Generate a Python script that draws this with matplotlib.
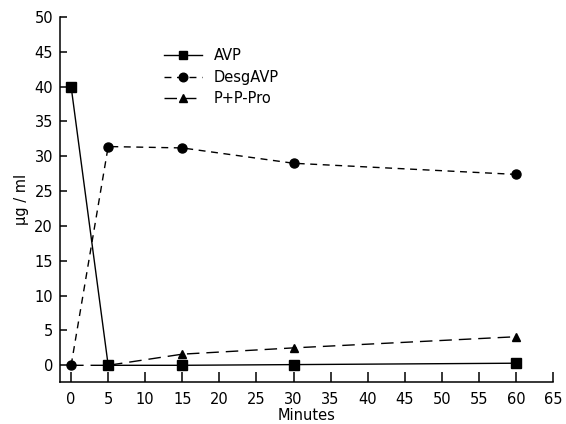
import numpy as np
import matplotlib
matplotlib.use('Agg')
import matplotlib.pyplot as plt

# ---------------- Data ---------------- #

minutes = [0, 5, 15, 30, 60]
avp = [40, 0, 0, 0.1, 0.3]
desgAvp = [0, 31.4, 31.2, 29.0, 27.4]
ppPro = [0, 0, 1.6, 2.5, 4.1]

xTicks = list(range(0, 70, 5))
yTicks = list(range(0, 55, 5))

# ------------- Plotting --------------- #

plt.rcParams['font.family'] = ['DejaVu Sans']
fig = plt.figure(figsize=(5.66, 4.24), dpi=100)
ax = fig.add_axes([0.106, 0.099, 0.871, 0.861])

lw = 1.0
# first two triangles sit under the circle/square, so skip drawing them
ax.plot(minutes, ppPro, color='black', lw=lw, ls=(0, (9, 5)),
        marker='^', ms=6, markevery=[2, 3, 4], label='P+P-Pro', zorder=2)
ax.plot(minutes, avp, color='black', lw=lw, marker='s', ms=6.5,
        label='AVP', zorder=3)
ax.plot(minutes, desgAvp, color='black', lw=lw, ls=(0, (5, 4)),
        marker='o', ms=6.5, label='DesgAVP', zorder=4)

ax.set_xlim(-1.5, 65)
ax.set_ylim(-2.4, 50)
ax.set_xticks(xTicks)
ax.set_yticks(yTicks)
ax.spines['top'].set_visible(False)
ax.spines['right'].set_visible(False)
for s in ('left', 'bottom'):
    ax.spines[s].set_linewidth(1.1)
ax.tick_params(axis='x', direction='in', length=7.5, width=1.1,
               pad=7, labelsize=10.5)
ax.tick_params(axis='y', direction='in', length=5, width=1.1,
               pad=5, labelsize=10.5)

ax.set_xlabel('Minutes', fontsize=10.5, labelpad=1)
ax.set_ylabel('μg / ml', fontsize=10.5, labelpad=4)

# legend in the original line order
h, l = ax.get_legend_handles_labels()
order = [1, 2, 0]
ax.legend([h[i] for i in order], [l[i] for i in order],
          loc='upper left', bbox_to_anchor=(0.185, 0.95), frameon=False,
          fontsize=10.5, handlelength=2.6, handletextpad=0.8,
          labelspacing=0.45, markerscale=0.95)

fig.savefig('out.png', dpi=100)
